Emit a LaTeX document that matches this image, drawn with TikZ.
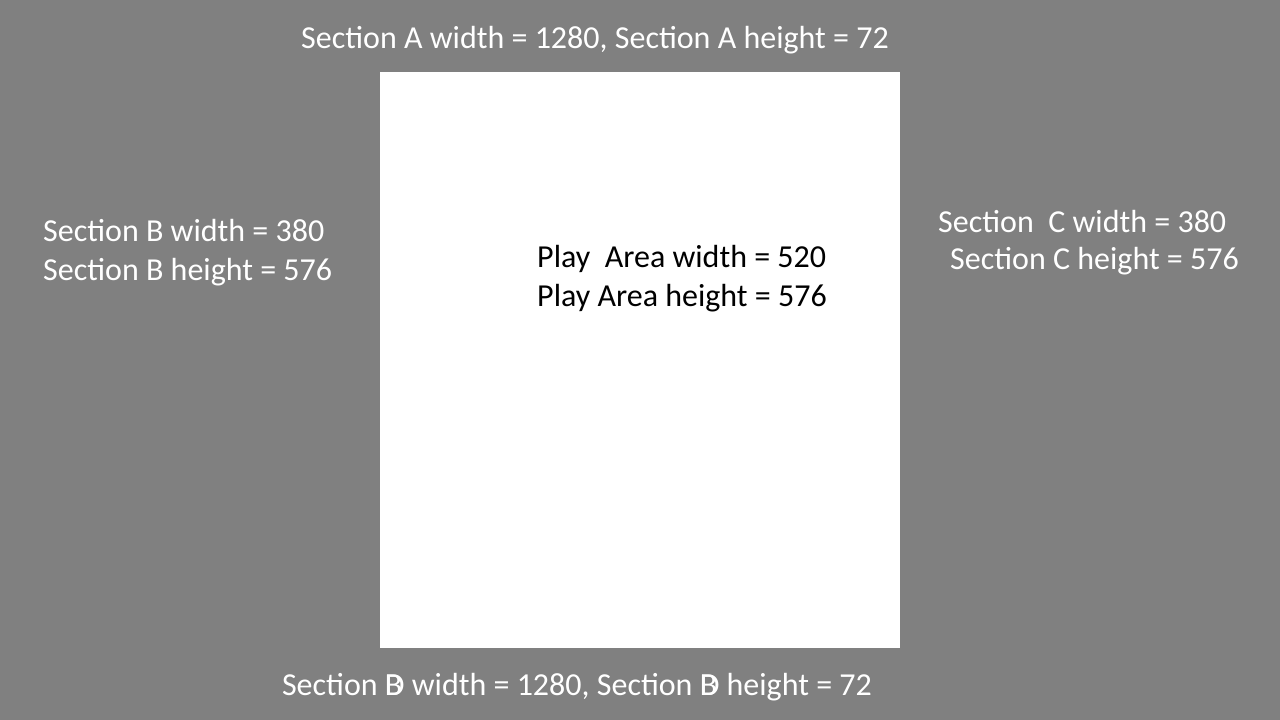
\documentclass[tikz,border=0pt]{standalone}
\usepackage{fontspec}
\setmainfont{Carlito}
\usetikzlibrary{positioning}
\definecolor{bggray}{RGB}{128,128,128}

\begin{document}
\begin{tikzpicture}[
  x=1pt, y=-1pt,
  label/.style={font=\fontsize{32}{38}\selectfont, text=white, inner sep=0pt},
  playtext/.style={label, text=black}
]
  % background and play area
  \fill[bggray] (0,0) rectangle (1280,720);
  \fill[white] (380,72) rectangle (900,648);

  \node[label, anchor=mid] (secA) at (595,46) {Section A width = 1280, Section A height = 72};

  \node[label, anchor=mid west] (secBw) at (43,239) {Section B width = 380};
  \node[label, anchor=mid west] (secBh) at (43,278) {Section B height = 576};

  \node[label, anchor=mid west] (secCw) at (938,230) {Section\ \ C width = 380};
  \node[label, anchor=mid west] (secCh) at (950,267) {Section C height = 576};

  \node[playtext, anchor=mid west] (playw) at (537,265) {Play\ \ Area width = 520};
  \node[playtext, anchor=mid west] (playh) at (537,304) {Play Area height = 576};

  \node[label, anchor=mid] (secD) at (577,693) {Section \rlap{B}D width = 1280, Section \rlap{B}D height = 72};
\end{tikzpicture}
\end{document}
